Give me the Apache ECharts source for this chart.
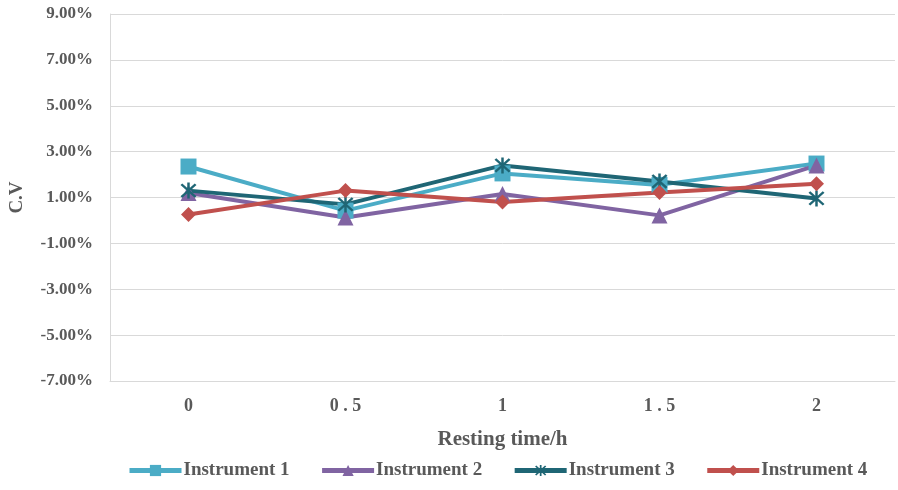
<!DOCTYPE html>
<html>
<head>
<meta charset="utf-8">
<script src="https://cdn.jsdelivr.net/npm/echarts@6/dist/echarts.min.js"></script>
<style>html,body{margin:0;padding:0;background:#fff}#c{width:898px;height:490px}</style>
</head>
<body>
<div id="c"></div>
<script>
const categories = ['0', '0.5', '1', '1.5', '2'];
const categoryLabels = ['0', '0 . 5', '1', '1 . 5', '2'];
const instrument1 = [2.35, 0.43, 2.05, 1.55, 2.48];
const instrument2 = [1.2, 0.13, 1.15, 0.22, 2.4];
const instrument3 = [1.3, 0.7, 2.4, 1.7, 0.96];
const instrument4 = [0.26, 1.3, 0.8, 1.22, 1.6];
const seriesNames = ['Instrument 1', 'Instrument 2', 'Instrument 3', 'Instrument 4'];

const font = '"Liberation Serif", "Times New Roman", serif';
const txt = '#595959';
const starPath = 'path://M4.3,0 L5.7,0 L5.7,10 L4.3,10 Z M0.5,1.5 L1.5,0.5 L9.5,8.5 L8.5,9.5 Z M8.5,0.5 L9.5,1.5 L1.5,9.5 L0.5,8.5 Z';

const defs = [
  {data: instrument1, color: '#4BACC6', symbol: 'rect', size: 16},
  {data: instrument2, color: '#8064A2', symbol: 'triangle', size: 16},
  {data: instrument3, color: '#1F6675', symbol: starPath, size: 16},
  {data: instrument4, color: '#C0504D', symbol: 'diamond', size: 15}
];

const chart = echarts.init(document.getElementById('c'));
chart.setOption({
  animation: false,
  backgroundColor: '#fff',
  textStyle: {fontFamily: font},
  grid: {left: 110, right: 3, top: 14, bottom: 109, containLabel: false, outerBoundsMode: 'none'},
  legend: {
    top: 456, left: 122,
    itemWidth: 52, itemHeight: 14, itemGap: 30,
    lineStyle: {width: 5},
    textStyle: {fontFamily: font, fontWeight: 'bold', fontSize: 19, color: txt, padding: [0, 0, 0, -3]},
    data: seriesNames
  },
  xAxis: {
    type: 'category', data: categories, boundaryGap: true,
    axisLine: {onZero: false, lineStyle: {color: '#D9D9D9', width: 1}},
    axisTick: {show: false},
    axisLabel: {formatter: (v, i) => categoryLabels[i], fontFamily: font, fontWeight: 'bold', fontSize: 18, color: txt, margin: 16},
    name: 'Resting time/h', nameLocation: 'middle', nameGap: 48,
    nameTextStyle: {fontFamily: font, fontWeight: 'bold', fontSize: 21, color: txt}
  },
  yAxis: {
    type: 'value', min: -7, max: 9, interval: 2,
    axisLine: {show: true, lineStyle: {color: '#D9D9D9', width: 1}},
    axisTick: {show: false},
    splitLine: {lineStyle: {color: '#D9D9D9', width: 1}},
    axisLabel: {formatter: v => v.toFixed(2) + '%', fontFamily: font, fontWeight: 'bold', fontSize: 17, color: txt, margin: 17},
    name: 'C.V', nameLocation: 'middle', nameGap: 83, nameRotate: 90,
    nameTextStyle: {fontFamily: font, fontWeight: 'bold', fontSize: 19, color: txt}
  },
  series: defs.map((d, i) => ({
    name: seriesNames[i], type: 'line', data: d.data,
    symbol: d.symbol, symbolSize: d.size, showAllSymbol: true,
    lineStyle: {color: d.color, width: 4},
    itemStyle: {color: d.color},
    emphasis: {disabled: true}
  }))
});
</script>
</body>
</html>
